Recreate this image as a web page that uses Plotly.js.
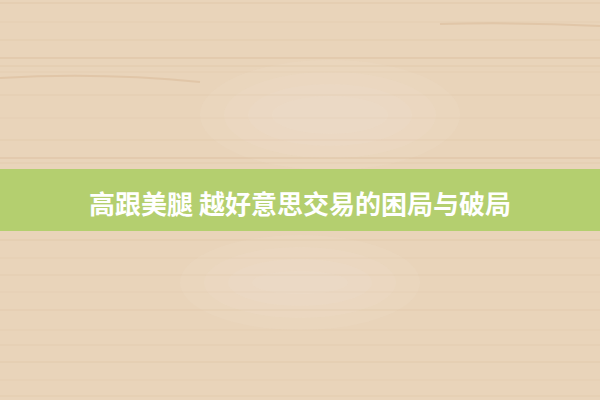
<!DOCTYPE html>
<html>
<head>
<meta charset="utf-8">
<script src="https://cdn.plot.ly/plotly-3.0.1.min.js"></script>
<style>
  html, body { margin: 0; padding: 0; background: #e9d4ba; }
  #chart { width: 600px; height: 400px; }
</style>
</head>
<body>
<div id="chart"></div>
<script>
// headline text on the green band
let headline = "高跟美腿 越好意思交易的困局与破局"

// wood grain: y of each faint line, its tone and opacity
let grainY = [3, 22, 40, 58, 66, 72, 95, 118, 140, 158, 163, 240, 258, 275, 292, 310, 330, 345, 362, 380, 396]
let grainCol = ["#d7b894", "#dcc0a0", "#d9bb98", "#d0ad86", "#d6b792", "#dcc0a0", "#d9bc99", "#dcc0a0", "#d6b792", "#cfac86", "#d9bb98",
                "#d6b792", "#dcc0a0", "#d9bb98", "#dcc0a0", "#d7b894", "#dcc0a0", "#d9bb98", "#d6b792", "#dcc0a0", "#d9bb98"]
let grainOp = [0.4, 0.25, 0.3, 0.45, 0.3, 0.25, 0.25, 0.2, 0.25, 0.45, 0.3, 0.3, 0.25, 0.25, 0.2, 0.3, 0.25, 0.25, 0.3, 0.25, 0.3]

let shapes = []

// lighter patches of the board, stacked so the edges fade
let patches = [[200, 460, 60, 170], [180, 420, 235, 330]]
patches.forEach(p => {
  for (let k = 0; k < 4; k++) {
    let s = k * 12
    shapes.push({type: 'circle', xref: 'x', yref: 'y', x0: p[0] + s * 2, x1: p[1] - s * 2, y0: p[2] + s, y1: p[3] - s,
      fillcolor: '#f2e4d2', opacity: 0.14, line: {width: 0}, layer: 'below'})
  }
})

grainY.forEach((y, i) => {
  shapes.push({type: 'line', xref: 'x', yref: 'y', x0: 0, x1: 600, y0: y, y1: y,
    line: {color: grainCol[i], width: 1}, opacity: grainOp[i], layer: 'below'})
})

// knots / darker streaks
shapes.push({type: 'path', xref: 'x', yref: 'y', path: 'M 0 78 Q 100 72 200 82',
  line: {color: '#cfa981', width: 2}, opacity: 0.3, layer: 'below'})
shapes.push({type: 'path', xref: 'x', yref: 'y', path: 'M 440 24 Q 520 22 600 26',
  line: {color: '#cfa981', width: 2}, opacity: 0.3, layer: 'below'})

// green band
shapes.push({type: 'rect', xref: 'x', yref: 'y', x0: 0, x1: 600, y0: 169, y1: 231,
  fillcolor: '#b4cf6f', line: {width: 0}, layer: 'above'})

let layout = {
  width: 600,
  height: 400,
  margin: {l: 0, r: 0, t: 0, b: 0},
  paper_bgcolor: '#e9d4ba',
  plot_bgcolor: '#e9d4ba',
  xaxis: {range: [0, 600], visible: false, fixedrange: true},
  yaxis: {range: [400, 0], visible: false, fixedrange: true},
  showlegend: false,
  shapes: shapes,
  annotations: [{
    x: 300, y: 202, xref: 'x', yref: 'y',
    text: headline,
    showarrow: false,
    xanchor: 'center', yanchor: 'middle',
    font: {family: '"Noto Sans CJK SC", "Noto Sans", sans-serif', size: 26, color: '#ffffff', weight: 700}
  }]
}

Plotly.newPlot('chart', [], layout, {displayModeBar: false, staticPlot: true})
</script>
</body>
</html>
